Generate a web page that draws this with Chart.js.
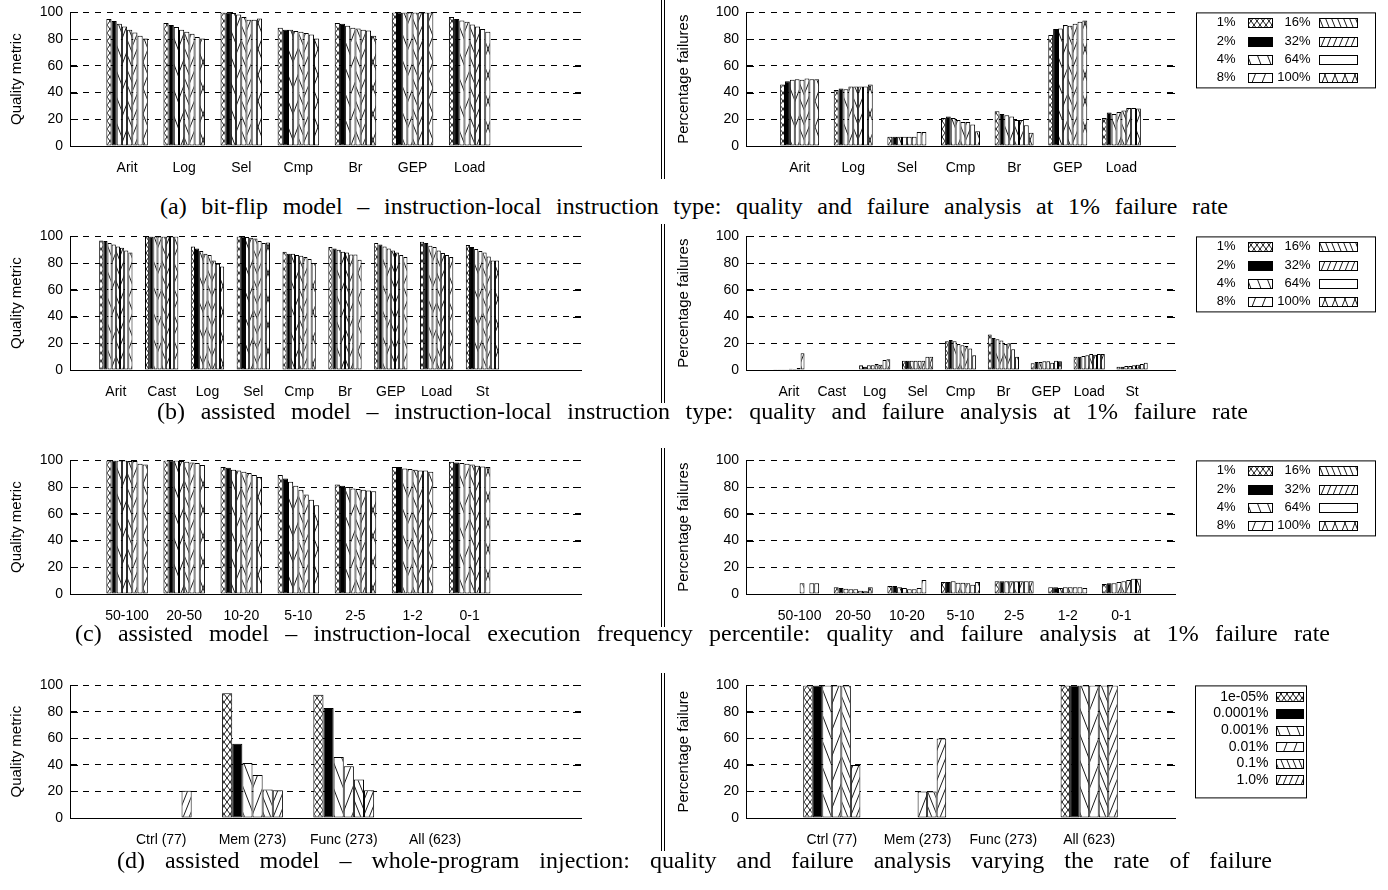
<!DOCTYPE html>
<html>
<head>
<meta charset="utf-8">
<script src="https://cdn.jsdelivr.net/npm/chart.js@4.4.1/dist/chart.umd.min.js"></script>
<style>
  body { margin: 0; background: #fff; width: 1388px; height: 890px; position: relative; overflow: hidden; }
  canvas { position: absolute; }
  .cap { position: absolute; font-family: "Liberation Serif", serif; font-size: 24px; line-height: 28px; color: #000; text-align: justify; text-align-last: justify; }
  .sep { position: absolute; left: 661px; width: 2px; border-left: 1px solid #000; border-right: 1px solid #000; }
</style>
</head>
<body>
<script>
// categories and series
const typeCats = ['Arit', 'Log', 'Sel', 'Cmp', 'Br', 'GEP', 'Load'];
const typeCatsAssisted = ['Arit', 'Cast', 'Log', 'Sel', 'Cmp', 'Br', 'GEP', 'Load', 'St'];
const freqCats = ['50-100', '20-50', '10-20', '5-10', '2-5', '1-2', '0-1'];
const wholeCats = ['Ctrl (77)', 'Mem (273)', 'Func (273)', 'All (623)'];
const rateLabels = ['1%', '2%', '4%', '8%', '16%', '32%', '64%', '100%'];
const wholeRates = ['1e-05%', '0.0001%', '0.001%', '0.01%', '0.1%', '1.0%'];
const yTicks = [0, 20, 40, 60, 80, 100];

// one row per category, one value per failure rate
const bitflipQuality = [
  [95, 93.5, 91.5, 89.5, 87, 85, 82.5, 80.5],
  [92, 90.5, 89, 87, 85.5, 84, 81.5, 80.5],
  [100, 100, 99.5, 98.5, 96.5, 94.5, 94.5, 95.5],
  [88.5, 87, 87, 86, 85.5, 84.5, 83.5, 80.5],
  [92, 91.5, 90, 88.5, 88, 87, 86.5, 82.5],
  [100, 100, 100, 100, 100, 100, 100, 100],
  [96.5, 95, 94, 93, 91, 89.5, 87.5, 85.5]
];
const bitflipFailures = [
  [46, 48.5, 49.5, 50, 49.5, 50.5, 50, 50],
  [42, 43, 42.5, 44.5, 44.5, 44.5, 44.5, 46],
  [7, 7, 7, 7, 7, 7, 10.5, 10.5],
  [21, 22, 21, 19.5, 18, 18, 16, 11],
  [26, 24, 23, 22, 19.5, 19.5, 15.5, 10],
  [83, 87.5, 88, 90.5, 90, 91.5, 93, 94],
  [21, 25, 24, 25.5, 26.5, 28.5, 28.5, 28]
];
const assistedTypeQuality = [
  [97, 96.5, 95, 94, 92.5, 91.5, 89.5, 88],
  [100, 100, 100, 100, 100, 100, 100, 100],
  [92.5, 91, 89, 87, 86, 82, 79.5, 77.5],
  [100, 100, 99.5, 99, 98.5, 96.5, 95, 95.5],
  [88.5, 87, 87, 86, 85.5, 84.5, 83, 80],
  [92, 91, 90, 88.5, 88, 86.5, 86.5, 82.5],
  [95, 94, 92.5, 91, 89.5, 88, 86, 84.5],
  [96, 95, 93, 92, 89.5, 87.5, 86, 84.5],
  [93.5, 92, 90.5, 89, 88, 85, 82, 82]
];
const assistedTypeFailures = [
  [0.5, 0.5, 0.5, 0.5, 1, 0.8, 1.5, 12.5],
  [0, 0, 0, 0, 0, 0, 0, 0],
  [3.5, 2.5, 3.5, 3.5, 4.5, 4, 7.5, 8],
  [7, 7, 7, 7, 7, 7, 10, 10],
  [21.5, 22.5, 21.5, 19.5, 18.5, 18, 16, 11],
  [26.5, 24, 23, 22, 19.5, 20, 15.5, 10],
  [5, 6, 6, 6.5, 6.5, 5.5, 7, 6.5],
  [10, 10, 10.5, 11, 12, 11.5, 12, 12],
  [2.5, 2.5, 3, 3, 3.5, 4, 4.5, 5.5]
];
const freqQuality = [
  [100, 100, 100, 100, 99.5, 99.5, 97.5, 97],
  [100, 100, 100, 99.5, 99, 98.5, 98, 96.5],
  [95, 94.5, 93, 92.5, 91.5, 90.5, 89, 87.5],
  [89, 86.5, 84, 81, 78, 74.5, 70.5, 66.5],
  [82, 81, 80, 79, 78.5, 78, 77.5, 77],
  [95, 95, 94, 93.5, 93, 92.5, 92.5, 91.5],
  [99, 98.5, 98, 97.5, 97, 96, 95.5, 95]
];
const freqFailures = [
  [0, 0, 0, 0, 8, 0, 8, 8],
  [5, 4.5, 4, 3.5, 3.5, 2.5, 2, 5],
  [6, 6, 5, 4.5, 3.5, 3.5, 4.5, 10.5],
  [9, 9, 9.5, 8.5, 8.5, 8, 7, 9],
  [9.5, 9.5, 9.5, 9.5, 9.5, 9.5, 9.5, 9.5],
  [5, 5, 4.5, 5, 5, 5, 5, 4.5],
  [7.5, 8, 8, 9, 9.5, 10.5, 11.5, 11.5]
];
const wholeQuality = [
  [0, 0, 0, 0, 0, 20.5],
  [94, 56, 41.5, 32.5, 21.5, 21],
  [93, 83, 46, 39, 29, 21],
  [0, 0, 0, 0, 0, 0]
];
const wholeFailures = [
  [100, 100, 100, 100, 100, 40],
  [0, 0, 0, 20, 20, 60],
  [0, 0, 0, 0, 0, 0],
  [100, 100, 100, 100, 100, 100]
];

const captions = [
  ['(a) bit-flip model – instruction-local instruction type: quality and failure analysis at 1% failure rate', 160, 1228, 206],
  ['(b) assisted model – instruction-local instruction type: quality and failure analysis at 1% failure rate', 157, 1248, 411],
  ['(c) assisted model – instruction-local execution frequency percentile: quality and failure analysis at 1% failure rate', 75, 1330, 633],
  ['(d) assisted model – whole-program injection: quality and failure analysis varying the rate of failure', 117, 1272, 860]
];

Chart.defaults.font.family = '"Liberation Sans", Arial, sans-serif';
Chart.defaults.color = '#000';

function makePattern(kind) {
  if (kind === 'solid') return '#000';
  if (kind === 'none') return '#fff';
  var spec = {
    xx: [6, 8, true, true],
    bs: [10, 26, true, false],
    fs: [10, 26, false, true],
    bs3: [6, 15, true, false],
    fs3: [6, 15, false, true],
    x: [10, 26, true, true]
  }[kind];
  var w = spec[0], h = spec[1];
  var c = document.createElement('canvas');
  c.width = w; c.height = h;
  var g = c.getContext('2d');
  g.fillStyle = '#fff';
  g.fillRect(0, 0, w, h);
  g.strokeStyle = '#000';
  g.lineWidth = 0.9;
  g.beginPath();
  for (var k = -1; k <= 1; k++) {
    if (spec[2]) { g.moveTo(k * w, 0); g.lineTo((k + 1) * w, h); }
    if (spec[3]) { g.moveTo((k + 1) * w, 0); g.lineTo(k * w, h); }
  }
  g.stroke();
  return g.createPattern(c, 'repeat');
}

var patternKinds = ['xx', 'solid', 'bs', 'fs', 'bs3', 'fs3', 'none', 'x'];
var fills = patternKinds.map(makePattern);

// inward tick marks on both sides of the plot
var innerTicks = {
  id: 'innerTicks',
  afterDraw: function (chart) {
    var ys = chart.scales.y, a = chart.chartArea, ctx = chart.ctx;
    ctx.save();
    ctx.strokeStyle = '#000';
    ctx.lineWidth = 1;
    ctx.beginPath();
    ys.ticks.forEach(function (t) {
      var py = Math.round(ys.getPixelForValue(t.value)) + 0.5;
      ctx.moveTo(a.left, py); ctx.lineTo(a.left + 8, py);
      ctx.moveTo(a.right - 8, py); ctx.lineTo(a.right, py);
    });
    ctx.stroke();
    ctx.restore();
  }
};

// boxed key to the right of the plot
var boxLegend = {
  id: 'boxLegend',
  afterDraw: function (chart, args, o) {
    if (!o || !o.w) return;
    var ctx = chart.ctx, a = chart.chartArea;
    var x0 = a.right + o.dx + 0.5, y0 = a.top + 0.5;
    ctx.save();
    ctx.strokeStyle = '#000';
    ctx.lineWidth = 1;
    ctx.strokeRect(x0, y0, o.w, o.h);
    ctx.font = o.font + 'px "Liberation Sans", Arial, sans-serif';
    ctx.textAlign = 'right';
    ctx.textBaseline = 'middle';
    chart.data.datasets.forEach(function (ds, i) {
      var col = Math.floor(i / o.perCol), row = i % o.perCol;
      var cy = y0 + o.rowY + row * o.rowStep;
      ctx.fillStyle = '#000';
      ctx.fillText(ds.label, x0 + o.labelRight[col], cy);
      var bx = Math.round(x0 + o.sampleX[col]) + 0.5, by = Math.round(cy - o.sampleH / 2) + 0.5;
      ctx.fillStyle = ds.backgroundColor;
      ctx.fillRect(bx, by, o.sampleW[col], o.sampleH);
      ctx.strokeRect(bx, by, o.sampleW[col], o.sampleH);
    });
    ctx.restore();
  }
};

var rateKey = { dx: 21, w: 179, h: 75, perCol: 4, font: 13, labelRight: [39, 114], sampleX: [51, 122], sampleW: [24, 38], rowY: 10, rowStep: 18.3, sampleH: 9 };
var wholeKey = { dx: 20, w: 111, h: 112, perCol: 6, font: 14, labelRight: [73], sampleX: [80], sampleW: [27], rowY: 11, rowStep: 16.6, sampleH: 9 };

function barChart(cats, rows, series, yTitle, plot, xMax, yW, key) {
  var n = series.length;
  var padTop = 12, xH = 36;
  var padRight = key ? 210 : 6;
  var canvas = document.createElement('canvas');
  canvas.width = yW + (plot.right - plot.left) + padRight;
  canvas.height = padTop + (plot.bottom - plot.top) + xH;
  document.body.appendChild(canvas);

  var datasets = series.map(function (lab, s) {
    return {
      label: lab,
      data: rows.map(function (r, i) { return { x: i, y: r[s] }; }),
      backgroundColor: fills[s],
      borderColor: '#000',
      borderWidth: 1,
      borderSkipped: false,
      categoryPercentage: n / (n + 3),
      barPercentage: 1
    };
  });

  var chart = new Chart(canvas, {
    type: 'bar',
    data: { datasets: datasets },
    plugins: [innerTicks, boxLegend],
    options: {
      responsive: false,
      animation: false,
      events: [],
      layout: { padding: { top: padTop, right: padRight, left: 0, bottom: 0 } },
      plugins: {
        legend: { display: false },
        tooltip: { enabled: false },
        boxLegend: key || {}
      },
      scales: {
        x: {
          type: 'linear',
          offset: false,
          min: -1,
          max: xMax,
          afterBuildTicks: function (scale) {
            scale.ticks = cats.map(function (c, i) { return { value: i }; });
          },
          afterFit: function (scale) { scale.height = xH; },
          grid: { display: false, drawTicks: false, offset: false },
          border: { display: true, color: '#000', width: 1 },
          ticks: {
            autoSkip: false,
            maxRotation: 0,
            padding: 14,
            font: { size: 14 },
            callback: function (v) { return cats[v]; }
          }
        },
        y: {
          min: 0,
          max: 100,
          afterBuildTicks: function (scale) {
            scale.ticks = yTicks.map(function (v) { return { value: v }; });
          },
          afterFit: function (scale) { scale.width = yW; },
          grid: { color: '#000', lineWidth: 1, drawTicks: false },
          border: { display: true, color: '#000', width: 1, dash: [6, 6] },
          ticks: { padding: 7, font: { size: 14 } },
          title: { display: true, text: yTitle, padding: 0, font: { size: 15 } }
        }
      }
    }
  });
  var a = chart.chartArea;
  canvas.style.left = (plot.left - a.left) + 'px';
  canvas.style.top = (plot.top - a.top) + 'px';
  return chart;
}

var rowsY = [[12, 149], [236, 373], [460, 597], [685, 821]];
function leftPlot(r) { return { left: 70, right: 581, top: rowsY[r][0], bottom: rowsY[r][1] }; }
function rightPlot(r) { return { left: 746, right: 1175, top: rowsY[r][0], bottom: rowsY[r][1] }; }

barChart(typeCats, bitflipQuality, rateLabels, 'Quality metric', leftPlot(0), 7.95, 62, null);
barChart(typeCats, bitflipFailures, rateLabels, 'Percentage failures', rightPlot(0), 7, 71, rateKey);
barChart(typeCatsAssisted, assistedTypeQuality, rateLabels, 'Quality metric', leftPlot(1), 10.15, 62, null);
barChart(typeCatsAssisted, assistedTypeFailures, rateLabels, 'Percentage failures', rightPlot(1), 9, 71, rateKey);
barChart(freqCats, freqQuality, rateLabels, 'Quality metric', leftPlot(2), 7.95, 62, null);
barChart(freqCats, freqFailures, rateLabels, 'Percentage failures', rightPlot(2), 7, 71, rateKey);
barChart(wholeCats, wholeQuality, wholeRates, 'Quality metric', leftPlot(3), 4.6, 62, null);
barChart(wholeCats, wholeFailures, wholeRates, 'Percentage failure', rightPlot(3), 4, 71, wholeKey);

// captions
captions.forEach(function (c) {
  var d = document.createElement('div');
  d.className = 'cap';
  d.textContent = c[0];
  d.style.left = c[1] + 'px';
  d.style.width = (c[2] - c[1]) + 'px';
  d.style.top = (c[3] - 14) + 'px';
  document.body.appendChild(d);
});

// double rule between the two columns
rowsY.forEach(function (r) {
  var d = document.createElement('div');
  d.className = 'sep';
  d.style.top = (r[0] - 12) + 'px';
  d.style.height = (r[1] - r[0] + 42) + 'px';
  document.body.appendChild(d);
});
</script>
</body>
</html>
